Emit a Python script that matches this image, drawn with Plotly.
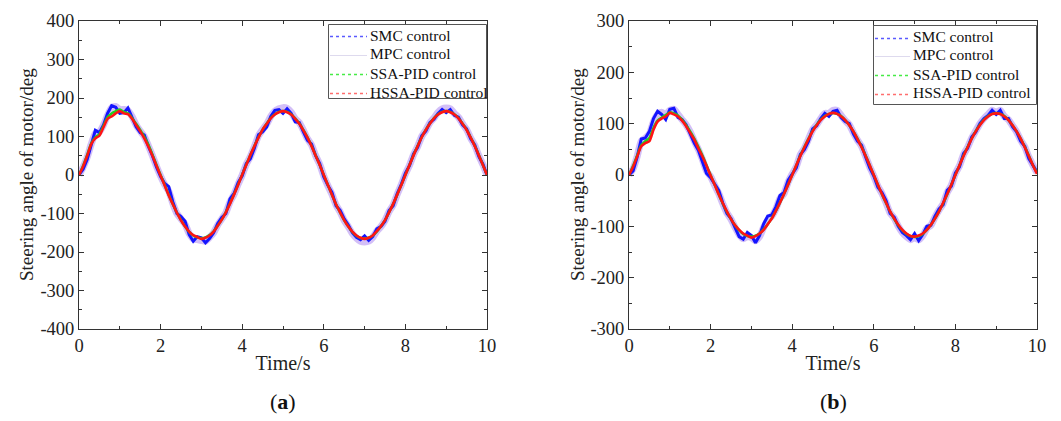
import plotly.graph_objects as go

# ---------------- data ----------------
time_s = [i / 10 for i in range(101)]

# panel (a)
a_smc = [0, 15, 40, 78, 116, 110, 130, 160, 180, 176,
         160, 162, 174, 150, 125, 110, 104, 75, 50, 20,
         -4, -22, -30, -70, -100, -108, -120, -155, -172, -160,
         -163, -176, -165, -150, -126, -110, -100, -62, -48, -20,
         -2, 30, 42, 70, 105, 112, 125, 152, 168, 170,
         160, 172, 160, 138, 136, 112, 90, 80, 50, 30,
         -5, -27, -45, -80, -92, -114, -130, -150, -162, -168,
         -158, -170, -160, -140, -134, -120, -92, -80, -48, -24,
         5, 24, 55, 72, 102, 114, 136, 145, 160, 170,
         162, 170, 155, 150, 130, 120, 94, 78, 48, 28,
         0]
a_mpc = [0, 20, 46, 80, 108, 112, 130, 155, 175, 178,
         170, 170, 168, 152, 130, 114, 100, 76, 50, 22,
         -3, -25, -42, -74, -100, -114, -128, -152, -166, -168,
         -170, -172, -162, -150, -130, -114, -98, -70, -50, -24,
         0, 28, 48, 74, 102, 118, 132, 152, 166, 172,
         175, 173, 163, 146, 136, 116, 94, 78, 50, 28,
         -3, -28, -50, -78, -96, -118, -134, -152, -164, -172,
         -174, -172, -162, -146, -134, -118, -95, -78, -50, -25,
         3, 25, 53, 74, 100, 116, 136, 148, 163, 172,
         174, 172, 160, 150, 133, 118, 96, 77, 50, 27,
         0]
a_ssa = [0, 24, 52, 82, 98, 106, 128, 150, 160, 166,
         170, 164, 160, 148, 133, 117, 99, 79, 53, 26,
         0, -26, -52, -76, -98, -117, -134, -148, -157, -162,
         -164, -162, -156, -146, -132, -116, -96, -74, -50, -25,
         1, 27, 52, 76, 98, 118, 134, 148, 158, 164,
         166, 164, 158, 147, 134, 117, 98, 76, 51, 26,
         0, -26, -52, -76, -98, -118, -134, -148, -158, -164,
         -165, -163, -157, -147, -133, -117, -97, -75, -51, -26,
         0, 26, 52, 76, 98, 118, 134, 148, 158, 164,
         166, 164, 158, 148, 134, 118, 98, 76, 52, 26,
         0]
a_hssa = [0, 22, 50, 80, 95, 102, 124, 146, 152, 160,
          166, 160, 158, 146, 130, 114, 95, 74, 50, 24,
          -2, -27, -53, -76, -98, -118, -134, -147, -156, -161,
          -166, -163, -157, -147, -132, -116, -97, -75, -51, -26,
          1, 26, 52, 75, 97, 118, 133, 147, 157, 163,
          166, 163, 157, 146, 133, 116, 97, 75, 50, 26,
          0, -26, -51, -76, -97, -117, -134, -147, -157, -163,
          -166, -163, -157, -146, -133, -117, -97, -75, -51, -26,
          0, 26, 51, 75, 98, 117, 133, 147, 157, 163,
          166, 163, 157, 147, 133, 117, 97, 75, 51, 26,
          0]

# panel (b)
b_smc = [0, 8, 35, 70, 72, 85, 110, 124, 118, 108,
         128, 130, 112, 108, 98, 80, 62, 48, 25, 3,
         -5, -18, -30, -55, -75, -85, -103, -120, -125, -112,
         -118, -132, -118, -95, -80, -78, -62, -40, -34, -10,
         2, 14, 40, 50, 66, 90, 96, 110, 120, 114,
         124, 126, 112, 104, 100, 80, 66, 58, 35, 14,
         -2, -24, -34, -50, -75, -82, -100, -112, -118, -126,
         -114, -128, -116, -100, -98, -80, -66, -58, -30, -22,
         4, 16, 42, 52, 74, 84, 100, 110, 116, 126,
         118, 126, 110, 110, 94, 84, 66, 56, 32, 20,
         6]
b_mpc = [0, 12, 36, 66, 72, 80, 104, 118, 122, 118,
         126, 128, 118, 108, 98, 84, 66, 50, 30, 8,
         -3, -20, -36, -56, -74, -86, -102, -116, -124, -120,
         -122, -128, -120, -102, -88, -80, -66, -46, -36, -14,
         2, 16, 40, 52, 70, 88, 98, 110, 120, 120,
         126, 126, 116, 106, 98, 82, 68, 56, 36, 16,
         -2, -22, -36, -54, -74, -84, -100, -112, -120, -126,
         -122, -126, -118, -104, -98, -82, -68, -56, -34, -20,
         3, 18, 40, 54, 72, 86, 100, 110, 118, 126,
         122, 126, 114, 108, 96, 84, 68, 55, 35, 19,
         5]
b_ssa = [0, 18, 38, 58, 66, 72, 92, 106, 112, 117,
         122, 120, 116, 108, 97, 85, 71, 55, 38, 19,
         0, -19, -38, -56, -72, -86, -98, -108, -115, -119,
         -120, -118, -114, -106, -96, -84, -70, -54, -37, -19,
         0, 19, 38, 55, 71, 86, 98, 108, 115, 119,
         121, 119, 115, 107, 97, 85, 71, 55, 38, 19,
         0, -19, -38, -55, -71, -86, -98, -108, -115, -119,
         -121, -119, -115, -107, -97, -85, -71, -55, -38, -19,
         0, 19, 38, 55, 71, 86, 98, 108, 115, 119,
         121, 119, 115, 107, 97, 85, 71, 55, 38, 19,
         4]
b_hssa = [0, 16, 36, 56, 62, 66, 88, 104, 110, 114,
          121, 118, 114, 106, 95, 82, 69, 52, 36, 18,
          -1, -19, -38, -55, -71, -86, -98, -107, -114, -118,
          -122, -119, -114, -107, -96, -85, -70, -54, -37, -19,
          0, 19, 37, 54, 70, 85, 97, 107, 114, 119,
          121, 119, 114, 107, 97, 85, 70, 54, 37, 19,
          0, -19, -37, -54, -71, -85, -97, -107, -114, -119,
          -120, -118, -114, -107, -97, -85, -71, -54, -37, -19,
          0, 19, 37, 54, 71, 85, 97, 107, 114, 119,
          120, 119, 114, 107, 97, 85, 71, 54, 37, 19,
          2]

series_names = ["SMC control", "MPC control", "SSA-PID control", "HSSA-PID control"]
panel_labels = ["(<b>a</b>)", "(<b>b</b>)"]
y_ticks = [[-400, -300, -200, -100, 0, 100, 200, 300, 400],
           [-300, -200, -100, 0, 100, 200, 300]]
x_ticks = [0, 2, 4, 6, 8, 10]
y_title = "Steering angle of motor/deg"
x_title = "Time/s"

# ---------------- styling ----------------
FONT = "Liberation Serif, Times New Roman, serif"
W, H = 1061, 421
plot_style = {
    "SMC control": dict(color="rgb(20,20,255)", width=3, shape="linear"),
    "MPC control": dict(color="rgba(196,170,244,0.75)", width=7, shape="spline", smoothing=0.6),
    "SSA-PID control": dict(color="rgb(30,210,30)", width=2.5, shape="spline", smoothing=0.6),
    "HSSA-PID control": dict(color="rgb(255,20,20)", width=2.6, shape="spline", smoothing=0.6),
}
legend_style = {
    "SMC control": dict(color="rgb(90,90,255)", width=1.5, dash="dot"),
    "MPC control": dict(color="rgb(222,218,238)", width=1.2),
    "SSA-PID control": dict(color="rgb(70,235,70)", width=1.5, dash="dot"),
    "HSSA-PID control": dict(color="rgb(255,110,110)", width=1.5, dash="dot"),
}
draw_order = ["MPC control", "SMC control", "SSA-PID control", "HSSA-PID control"]

panels = [
    dict(xa="x", ya="y",
         data={"SMC control": a_smc, "MPC control": a_mpc,
               "SSA-PID control": a_ssa, "HSSA-PID control": a_hssa},
         box=(328, 24, 486, 98), line_x=(330, 367), text_x=368,
         rows=(35, 54, 73, 92), ytitle_x=26),
    dict(xa="x2", ya="y2",
         data={"SMC control": b_smc, "MPC control": b_mpc,
               "SSA-PID control": b_ssa, "HSSA-PID control": b_hssa},
         box=(873, 25, 1036, 104), line_x=(875, 910), text_x=911,
         rows=(37, 55, 74, 93), ytitle_x=577),
]

fig = go.Figure()
for p in panels:
    for name in draw_order:
        fig.add_trace(go.Scatter(
            x=time_s, y=p["data"][name], mode="lines", name=name,
            line=plot_style[name],
            xaxis=p["xa"], yaxis=p["ya"], showlegend=False, hoverinfo="skip"))


def px(x):
    return x / W


def py(y):
    return 1 - y / H


shapes = []
annotations = []
for p in panels:
    x0, y0, x1, y1 = p["box"]
    shapes.append(dict(type="rect", xref="paper", yref="paper",
                       x0=px(x0 + 0.5), x1=px(x1 + 0.5), y0=py(y1 + 0.5), y1=py(y0 + 0.5),
                       fillcolor="white", line=dict(color="#555555", width=1),
                       layer="above"))
    for name, ry in zip(series_names, p["rows"]):
        shapes.append(dict(type="line", xref="paper", yref="paper",
                           x0=px(p["line_x"][0]), x1=px(p["line_x"][1]),
                           y0=py(ry + 1.5), y1=py(ry + 1.5),
                           line=legend_style[name], layer="above"))
        annotations.append(dict(text=name, xref="paper", yref="paper",
                                x=px(p["text_x"]), y=py(ry), xanchor="left",
                                yanchor="middle", showarrow=False,
                                font=dict(family=FONT, size=15.5, color="#111111")))
    annotations.append(dict(text=y_title, xref="paper", yref="paper",
                            x=px(p["ytitle_x"]), y=py(175), textangle=-90,
                            xanchor="center", yanchor="middle", showarrow=False,
                            font=dict(family=FONT, size=19, color="#222222")))

x_doms = [[79 / W, 487 / W], [629 / W, 1037 / W]]
y_dom = [1 - 329 / H, 1 - 21 / H]

axis_common = dict(
    showline=True, linecolor="#333333", linewidth=1, mirror="allticks",
    ticks="inside", ticklen=5, tickcolor="#333333", tickwidth=1,
    showgrid=False, zeroline=False, automargin=False,
    tickfont=dict(family=FONT, size=18.5, color="#222222"),
)

layout = dict(
    width=W, height=H,
    margin=dict(l=0, r=0, t=0, b=0, autoexpand=False),
    paper_bgcolor="white", plot_bgcolor="white",
    font=dict(family=FONT, color="#222222"),
    showlegend=False,
)
for i in range(2):
    sx = "" if i == 0 else "2"
    yt = y_ticks[i]
    layout["xaxis" + sx] = dict(
        axis_common, domain=x_doms[i], range=[x_ticks[0], x_ticks[-1]],
        tickmode="array", tickvals=x_ticks, ticktext=[str(v) for v in x_ticks],
        anchor="y" + sx,
        minor=dict(dtick=1, tick0=0, ticks="inside", ticklen=3, tickcolor="#333333"),
        title=dict(text=x_title, font=dict(family=FONT, size=20, color="#222222"),
                   standoff=0),
    )
    layout["yaxis" + sx] = dict(
        axis_common, domain=y_dom, range=[yt[0], yt[-1]],
        tickmode="array", tickvals=yt, ticktext=[str(v) for v in yt],
        anchor="x" + sx,
        minor=dict(dtick=50, tick0=0, ticks="inside", ticklen=3, tickcolor="#333333"),
    )
    annotations.append(dict(
        text=panel_labels[i], xref="paper", yref="paper",
        x=(x_doms[i][0] + x_doms[i][1]) / 2, y=1 - 401 / H,
        xanchor="center", yanchor="middle", showarrow=False,
        font=dict(family=FONT, size=22, color="#111111")))

layout["shapes"] = shapes
layout["annotations"] = annotations
fig.update_layout(**layout)
fig.write_html("out.html", config={"displayModeBar": False},
               post_script="document.body.style.margin='0';document.body.style.padding='0';")
